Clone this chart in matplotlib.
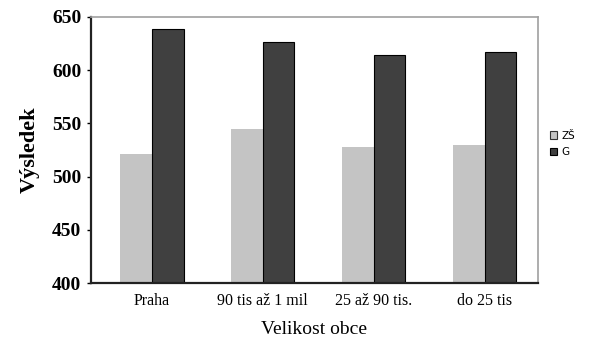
import matplotlib
matplotlib.use("Agg")
import matplotlib.pyplot as plt
import numpy as np

categories = ["Praha", "90 tis až 1 mil", "25 až 90 tis.", "do 25 tis"]
zs_values = [521, 545, 528, 530]
g_values = [639, 626, 614, 617]
series_names = ["ZŠ", "G"]
yticks = [400, 450, 500, 550, 600, 650]

fig = plt.figure(figsize=(5.9, 3.42), dpi=100)
ax = fig.add_axes([0.154, 0.1725, 0.758, 0.778])

x = np.arange(len(categories))
w = 0.285
b1 = ax.bar(x - w / 2 + 0.05, zs_values, width=w, color="#c4c4c4", edgecolor="none",
            label=series_names[0])
b2 = ax.bar(x + w / 2 + 0.05, g_values, width=w, color="#404040", edgecolor="black",
            linewidth=0.8, label=series_names[1])

ax.set_ylim(400, 650)
ax.set_xlim(-0.5, 3.53)
ax.set_yticks(yticks)
ax.set_yticklabels([str(v) for v in yticks], family="Liberation Serif",
                   fontweight="bold", fontsize=14)
ax.set_xticks(x + 0.05)
ax.set_xticklabels(categories, family="Liberation Serif", fontsize=11.5)
ax.tick_params(axis="x", length=0, pad=7)
ax.tick_params(axis="y", length=3, width=1, direction="out", pad=4)

for s in ["left", "bottom"]:
    ax.spines[s].set_color("#222222")
    ax.spines[s].set_linewidth(1.6)
for s in ["top", "right"]:
    ax.spines[s].set_color("#a0a0a0")
    ax.spines[s].set_linewidth(1.2)

ax.set_ylabel("Výsledek", family="Liberation Serif", fontweight="bold", fontsize=16,
              labelpad=9)
ax.set_xlabel("Velikost obce", family="Liberation Serif", fontsize=14, labelpad=9)

leg = fig.legend(handles=[b1, b2], labels=series_names, loc="upper left",
                 bbox_to_anchor=(0.925, 0.63), frameon=False, fontsize=7.5,
                 handlelength=0.7, handleheight=0.7, handletextpad=0.4,
                 labelspacing=0.6, borderaxespad=0)
leg.legend_handles[0].set_edgecolor("#333333")
leg.legend_handles[0].set_linewidth(0.8)

fig.savefig("out.png", dpi=100, facecolor="white")
